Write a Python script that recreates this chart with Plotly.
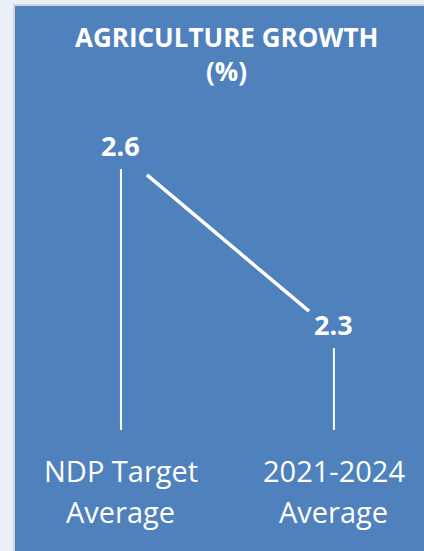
import plotly.graph_objects as go

# Data
categories = ["NDP Target<br>Average", "2021-2024<br>Average"]
values = [2.6, 2.3]
value_labels = ["2.6", "2.3"]
title_lines = ["AGRICULTURE GROWTH", "(%)"]

W, H = 424, 551
BLUE = "#4f81bd"
BG = "#e9f0f8"
FONT = "Open Sans"

# axis ranges chosen so the two points sit where the reference puts them
y_range = [1.925, 2.848]
x_range = [-0.568, 1.423]
k = H / (y_range[1] - y_range[0])          # px per unit on y


def px_to_y(py):
    return y_range[1] - py / k


xs = list(range(len(values)))
fig = go.Figure()

# drop lines from each value down to a common baseline
base = px_to_y(430)
for x, v in zip(xs, values):
    fig.add_trace(go.Scatter(x=[x, x], y=[v - 21 / k, base], mode="lines",
                             line=dict(color="white", width=2),
                             hoverinfo="skip", showlegend=False))

# connecting slope line, trimmed at both ends
t0, t1 = 0.122, 0.883
fig.add_trace(go.Scatter(
    x=[xs[0] + t0 * (xs[1] - xs[0]), xs[0] + t1 * (xs[1] - xs[0])],
    y=[values[0] + t0 * (values[1] - values[0]) - 5 / k,
       values[0] + t1 * (values[1] - values[0]) - 5 / k],
    mode="lines", line=dict(color="white", width=3.5),
    hoverinfo="skip", showlegend=False))

ann = []
for x, v, lab in zip(xs, values, value_labels):
    ann.append(dict(x=x, y=v + 2.5 / k, text=lab, showarrow=False, xanchor="center",
                    yanchor="middle",
                    font=dict(family=FONT, size=27, color="white", weight="bold")))

for x, cat in zip(xs, categories):
    for i, line in enumerate(cat.split("<br>")):
        ann.append(dict(x=x, y=px_to_y(470 + 41 * i), text=line, showarrow=False,
                        xanchor="center", yanchor="middle",
                        font=dict(family=FONT, size=29, color="white")))

for i, line in enumerate(title_lines):
    ann.append(dict(x=226 / W, xref="paper", y=1 - (37 + 34 * i) / H, yref="paper",
                    text=line, showarrow=False, xanchor="center", yanchor="middle",
                    font=dict(family=FONT, size=26, color="white", weight="bold")))

fig.update_layout(
    width=W, height=H,
    margin=dict(l=0, r=0, t=0, b=0),
    paper_bgcolor=BG, plot_bgcolor="rgba(0,0,0,0)",
    xaxis=dict(range=x_range, visible=False, fixedrange=True),
    yaxis=dict(range=y_range, visible=False, fixedrange=True),
    annotations=ann,
    shapes=[dict(type="rect", xref="paper", yref="paper",
                 x0=14 / W, x1=1.05, y0=-0.05, y1=1 - 5 / H,
                 fillcolor=BLUE, line=dict(color="#d3d6d9", width=2),
                 layer="below")],
    showlegend=False,
)

fig.write_html("out.html")
